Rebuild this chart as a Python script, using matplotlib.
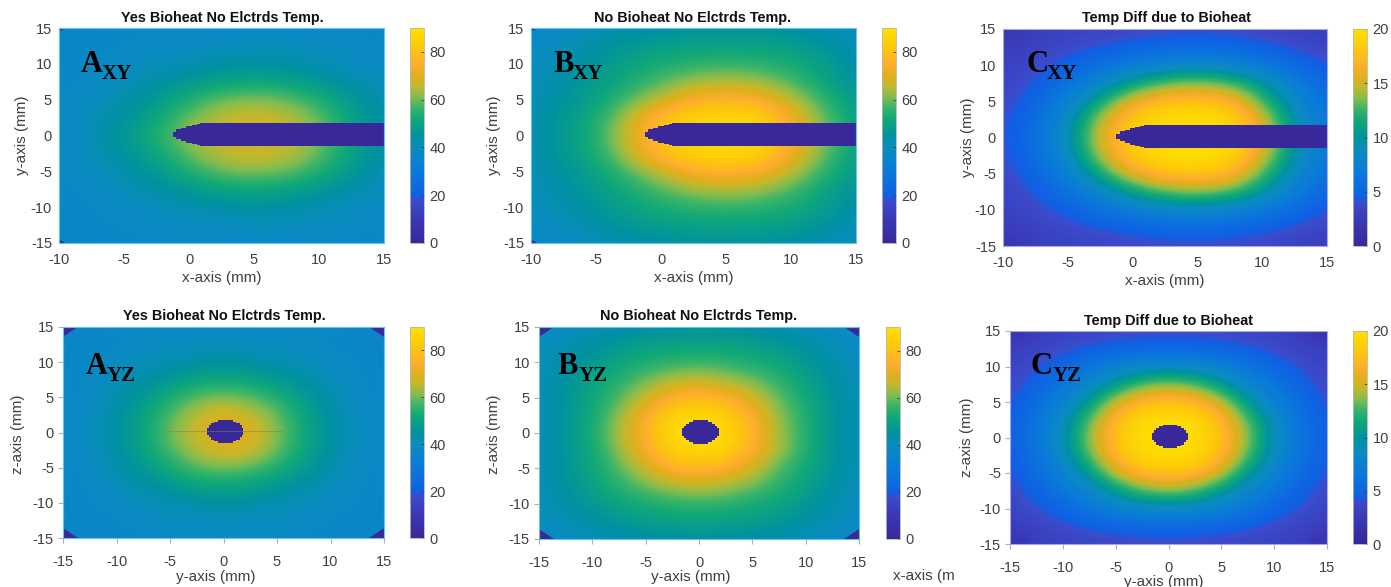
import numpy as np
import matplotlib
matplotlib.use('Agg')
import matplotlib.pyplot as plt
from matplotlib.cm import ScalarMappable
from matplotlib.colors import LinearSegmentedColormap, Normalize

W, H = 1391, 587

# grid positions of the values (mm)
x_xy = [-10, -7.5, -5, -2.5, 0, 2.5, 5, 7.5, 10, 12.5, 15]
y_yz = [-15, -12.5, -10, -7.5, -5, -2.5, 0, 2.5, 5, 7.5, 10, 12.5, 15]
rows = [15, 12.5, 10, 7.5, 5, 2.5, 0, -2.5, -5, -7.5, -10, -12.5, -15]

a_xy = [[36, 37, 38, 38, 38, 38, 38, 38, 38, 38, 37],
        [37, 38, 38, 39, 40, 40, 41, 41, 40, 39, 38],
        [37, 38, 39, 41, 42, 44, 45, 44, 42, 40, 39],
        [37, 39, 41, 44, 47, 50, 51, 50, 47, 44, 40],
        [38, 40, 43, 47, 54, 60, 62, 60, 54, 47, 42],
        [38, 41, 45, 51, 60, 66, 68, 66, 60, 50, 43],
        [38, 42, 47, 54, 63, 67, 68, 67, 61, 49, 43],
        [38, 41, 45, 51, 60, 66, 68, 66, 60, 50, 43],
        [38, 40, 43, 47, 54, 60, 62, 60, 54, 47, 42],
        [37, 39, 41, 44, 47, 50, 51, 50, 47, 44, 40],
        [37, 38, 39, 41, 42, 44, 45, 44, 42, 40, 39],
        [37, 38, 38, 39, 40, 40, 41, 41, 40, 39, 38],
        [36, 37, 38, 38, 38, 38, 38, 38, 38, 38, 37]]

b_xy = [[37, 39, 41, 43, 44, 45, 45, 45, 44, 42, 40],
        [38, 41, 44, 47, 49, 50, 50, 50, 49, 46, 41],
        [40, 43, 46, 50, 53, 55, 56, 55, 53, 49, 43],
        [41, 44, 48, 53, 58, 63, 65, 63, 58, 51, 45],
        [41, 45, 50, 58, 66, 75, 76, 75, 66, 56, 47],
        [42, 47, 53, 65, 80, 86, 88, 86, 73, 60, 49],
        [42, 47, 54, 68, 80, 88, 90, 88, 75, 61, 51],
        [42, 47, 53, 65, 80, 86, 88, 86, 73, 60, 49],
        [41, 45, 50, 58, 66, 75, 76, 75, 66, 56, 47],
        [41, 44, 48, 53, 58, 63, 65, 63, 58, 51, 45],
        [40, 43, 46, 50, 53, 55, 56, 55, 53, 49, 43],
        [38, 41, 44, 47, 49, 50, 50, 50, 49, 46, 41],
        [37, 39, 41, 43, 44, 45, 45, 45, 44, 42, 40]]

c_xy = [[1.5, 2.8, 3.1, 3.3, 3.5, 3.7, 3.8, 3.7, 3.4, 3.1, 2.5],
        [2.6, 3.2, 3.7, 4.2, 4.7, 5.1, 5.2, 5, 4.6, 4, 3.4],
        [3, 3.7, 4.7, 5.8, 7, 7.8, 8.3, 7.8, 6.6, 5.3, 4.1],
        [3.3, 4.3, 5.8, 8, 11, 13.2, 14, 13, 10.3, 7, 4.9],
        [3.6, 4.9, 7.3, 11.5, 16, 17.8, 18, 17.5, 13, 8.3, 5.7],
        [3.9, 5.4, 8.5, 14.5, 18.5, 20, 20, 19.5, 15.5, 9.5, 6.3],
        [4, 5.6, 9, 15.5, 19, 20, 20, 20, 16.5, 10, 6.5],
        [3.9, 5.4, 8.5, 14.5, 18.5, 20, 20, 19.5, 15.5, 9.5, 6.3],
        [3.6, 4.9, 7.3, 11.5, 16, 17.8, 18, 17.5, 13, 8.3, 5.7],
        [3.3, 4.3, 5.8, 8, 11, 13.2, 14, 13, 10.3, 7, 4.9],
        [3, 3.7, 4.7, 5.8, 7, 7.8, 8.3, 7.8, 6.6, 5.3, 4.1],
        [2.6, 3.2, 3.7, 4.2, 4.7, 5.1, 5.2, 5, 4.6, 4, 3.4],
        [1.5, 2.8, 3.1, 3.3, 3.5, 3.7, 3.8, 3.7, 3.4, 3.1, 2.5]]

a_yz = [[36, 37, 37, 38, 38, 38, 39, 38, 38, 38, 37, 37, 36],
        [37, 37, 38, 39, 40, 40, 41, 40, 40, 39, 38, 37, 37],
        [37, 38, 39, 41, 42, 44, 45, 44, 42, 41, 39, 38, 37],
        [37, 38, 41, 44, 47, 50, 51, 50, 47, 44, 41, 38, 37],
        [37, 39, 43, 47, 53, 59, 61, 59, 54, 48, 43, 39, 37],
        [37, 40, 44, 50, 58, 66, 70, 66, 60, 50, 44, 40, 37],
        [37, 40, 44, 51, 60, 68, 70, 71, 61, 52, 44, 40, 37],
        [37, 40, 44, 50, 58, 65, 70, 68, 60, 51, 44, 40, 37],
        [37, 39, 43, 47, 53, 59, 61, 59, 54, 48, 43, 39, 37],
        [37, 38, 41, 44, 47, 50, 51, 50, 47, 44, 41, 38, 37],
        [37, 38, 39, 41, 42, 44, 45, 44, 42, 41, 39, 38, 37],
        [37, 37, 38, 39, 40, 40, 41, 40, 40, 39, 38, 37, 37],
        [36, 37, 37, 38, 38, 38, 39, 38, 38, 38, 37, 37, 36]]

b_yz = [[38, 40, 41, 42, 43, 44, 45, 44, 43, 42, 41, 39, 37],
        [40, 42, 44, 47, 49, 50, 50, 50, 49, 47, 44, 42, 39],
        [41, 44, 47, 51, 53, 55, 56, 55, 53, 51, 47, 43, 40],
        [41, 45, 50, 54, 60, 64, 66, 63, 60, 55, 50, 45, 40],
        [41, 46, 51, 58, 66, 75, 78, 75, 68, 59, 52, 46, 41],
        [41, 46, 52, 62, 74, 86, 88, 85, 75, 62, 54, 46, 41],
        [41, 46, 53, 64, 76, 88, 90, 88, 77, 63, 55, 46, 41],
        [41, 46, 52, 62, 74, 85, 88, 86, 75, 64, 54, 46, 41],
        [41, 46, 51, 58, 67, 76, 78, 75, 68, 58, 52, 46, 41],
        [41, 45, 50, 55, 60, 64, 66, 64, 60, 55, 50, 45, 40],
        [41, 44, 47, 51, 53, 55, 56, 55, 53, 51, 47, 43, 40],
        [40, 42, 44, 47, 49, 50, 50, 50, 49, 47, 44, 42, 39],
        [38, 40, 41, 42, 43, 44, 45, 44, 43, 42, 41, 39, 37]]

c_yz = [[1.2, 2.7, 3.1, 3.3, 3.5, 3.6, 3.7, 3.6, 3.5, 3.3, 3.1, 2.7, 1.2],
        [2.7, 3.3, 3.8, 4.4, 4.8, 5, 5.2, 5, 4.8, 4.4, 3.8, 3.3, 2.7],
        [3.2, 4.1, 5, 6.3, 7.5, 8.2, 8.5, 8.2, 7.5, 6.3, 5, 4.1, 3.2],
        [3.6, 4.8, 6.3, 8, 10.5, 13, 14, 13, 10.5, 8, 6.3, 4.8, 3.6],
        [4, 5.4, 7.5, 10.5, 15, 17.5, 18, 17.5, 15, 10.5, 7.5, 5.4, 4],
        [4.3, 6, 8.8, 13, 17.5, 19.5, 20, 19.5, 17.5, 13, 8.8, 6, 4.3],
        [4.5, 6.2, 9, 14, 18, 20, 20, 20, 18, 14, 9, 6.2, 4.5],
        [4.3, 6, 8.8, 13, 17.5, 19.5, 20, 19.5, 17.5, 13, 8.8, 6, 4.3],
        [4, 5.4, 7.5, 10.5, 15, 17.5, 18, 17.5, 15, 10.5, 7.5, 5.4, 4],
        [3.6, 4.8, 6.3, 8, 10.5, 13, 14, 13, 10.5, 8, 6.3, 4.8, 3.6],
        [3.2, 4.1, 5, 6.3, 7.5, 8.2, 8.5, 8.2, 7.5, 6.3, 5, 4.1, 3.2],
        [2.7, 3.3, 3.8, 4.4, 4.8, 5, 5.2, 5, 4.8, 4.4, 3.8, 3.3, 2.7],
        [1.2, 2.7, 3.1, 3.3, 3.5, 3.6, 3.7, 3.6, 3.5, 3.3, 3.1, 2.7, 1.2]]

# probe cross sections
needle_x = [-1.25, -1.0, -0.6, -0.2, 0.2, 0.6, 0.85, 15]
needle_top = [0.55, 0.85, 1.05, 1.3, 1.5, 1.6, 1.75, 1.75]
needle_bot = [-0.25, -0.55, -0.75, -1.0, -1.2, -1.3, -1.45, -1.45]
disc_y = [-1.5, -1.25, -1.0, -0.7, -0.4, 0.7, 1.0, 1.3, 1.55, 1.8]
disc_half = [0.7, 1.05, 1.35, 1.55, 1.7, 1.55, 1.35, 1.05, 0.7, 0.7]

names = ['A', 'B', 'C', 'A', 'B', 'C']
subs = ['XY', 'XY', 'XY', 'YZ', 'YZ', 'YZ']
titles = ['Yes Bioheat No Elctrds Temp.', 'No Bioheat No Elctrds Temp.', 'Temp Diff due to Bioheat'] * 2
grids = [a_xy, b_xy, c_xy, a_yz, b_yz, c_yz]
limits = [90, 90, 20, 90, 90, 20]
bar_ticks = [[0, 20, 40, 60, 80], [0, 20, 40, 60, 80], [0, 5, 10, 15, 20]] * 2
xy_ticks = [-10, -5, 0, 5, 10, 15]
yz_ticks = [-15, -10, -5, 0, 5, 10, 15]

# layout in reference pixels: left, right, top, bottom
boxes = [(59, 384, 28, 243), (531, 856, 28, 243), (1003, 1327, 29, 246),
         (63, 384, 327, 538), (539, 859, 327, 539), (1010, 1327, 331, 544)]
bar_left = [410, 882, 1353, 410, 886, 1353]
title_pos = [(222, 18), (693, 18), (1166, 18), (224, 316), (699, 316), (1169, 321)]
xlabel_pos = [(222, 278), (694, 278), (1165, 281), (216, 577), (691, 577), (1164, 582)]
ylabel_pos = [(22, 135), (494, 135), (968, 137), (18, 434), (494, 434), (967, 437)]
letter_pos = [(81, 72), (553, 72), (1026, 72), (86, 374), (557, 374), (1030, 374)]
sub_pos = [(102, 79), (573, 79), (1047, 79), (107, 381), (579, 381), (1053, 381)]
corner_size = [(0.5, 0.5), (0.5, 0.5), (0, 0), (1.4, 1.4), (1.4, 1.4), (0, 0)]

cmap_values = [0, 10, 18, 20, 30, 40, 45, 52, 57, 61, 66, 70, 75, 80, 90]
cmap_colors = ['#38289a', '#3a38b4', '#3a4ccc', '#1060e4', '#0a7ada', '#0a8cc0', '#0092a0', '#10a878',
               '#3cb468', '#80bc50', '#c4b82c', '#e2ae1c', '#ffae30', '#fcc210', '#ffe000']
parula = LinearSegmentedColormap.from_list('stepped', [(v / 90, c) for v, c in zip(cmap_values, cmap_colors)], N=512)

plt.rcParams['font.family'] = ['Liberation Sans', 'DejaVu Sans']
fig = plt.figure(figsize=(W / 100, H / 100), dpi=100)
INDIGO = '#38289a'
GREY = '#404040'


def fx(px):
    return px / W


def fy(py):
    return 1 - py / H


for i in range(6):
    l, r, t, b = boxes[i]
    ax = fig.add_axes([fx(l), fy(b), (r - l) / W, (b - t) / H])
    is_xy = i < 3
    xs = x_xy if is_xy else y_yz
    lim = limits[i]
    # half a cell of 2.5 mm round the read values, clipped by the limits below
    ax.imshow(grids[i], extent=[xs[0] - 1.25, xs[-1] + 1.25, -16.25, 16.25], cmap=parula, vmin=0, vmax=lim,
              interpolation='bicubic', interpolation_stage='data', aspect='auto')
    ax.set_xlim(xs[0], xs[-1])
    ax.set_ylim(-15, 15)

    if is_xy:
        ax.fill_between(needle_x, needle_bot, needle_top, step='post', color=INDIGO, lw=0)
    else:
        ax.fill_betweenx(disc_y, [0.15 - d for d in disc_half], [0.15 + d for d in disc_half],
                         step='post', color=INDIGO, lw=0)

    # dark corners left by the mesh
    dx, dy = corner_size[i]
    if dx:
        cx = [xs[0], xs[-1]] if not is_xy else [xs[0]]
        for c in cx:
            sx = 1 if c == xs[0] else -1
            for sy, c_y in [(1, -15), (-1, 15)]:
                ax.fill([c, c + sx * dx, c], [c_y, c_y, c_y + sy * dy], color=INDIGO, lw=0)
    if i == 3:
        ax.plot([-5.2, 5.6], [0.25, 0.25], color='#808050', lw=0.6, alpha=0.6)

    ax.set_xticks(xy_ticks if is_xy else yz_ticks)
    ax.set_yticks(yz_ticks)
    tick_len = 0 if is_xy else 3.5
    ax.tick_params(axis='x', length=tick_len, width=0.8, color='#b0b0b0', labelsize=10.5,
                   labelcolor=GREY, pad=9 if not is_xy else 7)
    ax.tick_params(axis='y', length=tick_len, width=0.8, color='#b0b0b0', labelsize=10.5,
                   labelcolor=GREY, pad=5 if is_xy else 3)
    ax.set_xticklabels([str(v) for v in ax.get_xticks().astype(int)])
    ax.set_yticklabels([str(v) for v in ax.get_yticks().astype(int)])
    edge = '#60c4ee' if lim == 90 else '#a8a8ee'
    for s in ax.spines.values():
        s.set_color(edge)
        s.set_linewidth(0.8)

    fig.text(fx(title_pos[i][0]), fy(title_pos[i][1]), titles[i], ha='center', va='center',
             fontsize=10.4, fontweight='bold', color='#111111')
    ax.set_xlabel('x-axis (mm)' if is_xy else 'y-axis (mm)', fontsize=11, color=GREY)
    ax.xaxis.set_label_coords(fx(xlabel_pos[i][0]), fy(xlabel_pos[i][1]), transform=fig.transFigure)
    ax.xaxis.label.set_va('center')
    ax.set_ylabel('y-axis (mm)' if is_xy else 'z-axis (mm)', fontsize=11, color=GREY)
    ax.yaxis.set_label_coords(fx(ylabel_pos[i][0]), fy(ylabel_pos[i][1]), transform=fig.transFigure)
    ax.yaxis.label.set_va('center')

    fig.text(fx(letter_pos[i][0]), fy(letter_pos[i][1]), names[i], family='Liberation Serif',
             fontweight='bold', fontsize=22, color='black', va='baseline')
    fig.text(fx(sub_pos[i][0]), fy(sub_pos[i][1]), subs[i], family='Liberation Serif',
             fontweight='bold', fontsize=15, color='black', va='baseline')

    cax = fig.add_axes([fx(bar_left[i]), fy(b), 14 / W, (b - t) / H])
    cb = fig.colorbar(ScalarMappable(Normalize(0, lim), parula), cax=cax)
    cb.set_ticks(bar_ticks[i])
    cb.ax.tick_params(length=2, width=0.6, direction='in', color=GREY, labelsize=10.5, labelcolor=GREY, pad=4)
    cb.outline.set_edgecolor('#b8b8a8')
    cb.outline.set_linewidth(0.6)

# label of a neighbouring panel cut off in the source image
fig.text(fx(893), fy(576), 'x-axis (m', fontsize=11, color=GREY, va='center')

fig.savefig('out.png', dpi=100)
